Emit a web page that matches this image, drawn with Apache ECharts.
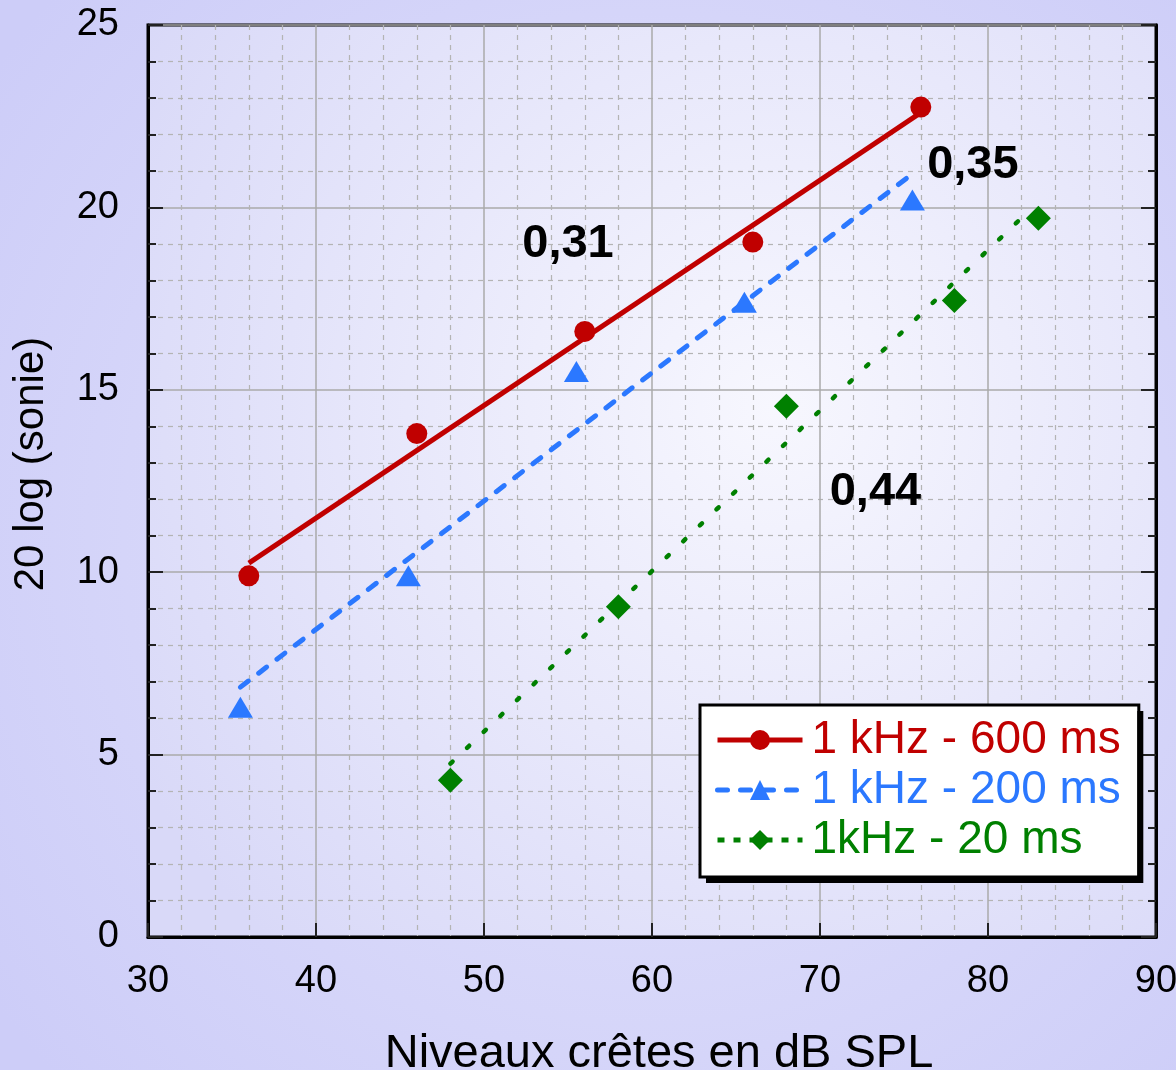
<!DOCTYPE html>
<html>
<head>
<meta charset="utf-8">
<script src="https://cdn.jsdelivr.net/npm/echarts@6/dist/echarts.min.js"></script>
<style>
html,body{margin:0;padding:0;background:#d4d4fa;}
#chart{width:1176px;height:1070px;}
</style>
</head>
<body>
<div id="chart"></div>
<script>
// ---- data ----
const seriesNames = ['1 kHz - 600 ms', '1 kHz - 200 ms', '1kHz - 20 ms'];
const points600 = [[36, 9.9], [46, 13.8], [56, 16.6], [66, 19.05], [76, 22.75]];
const points200 = [[35.5, 6.3], [45.5, 9.9], [55.5, 15.5], [65.5, 17.4], [75.5, 20.2]];
const points20  = [[48, 4.3], [58, 9.05], [68, 14.55], [78, 17.45], [83, 19.7]];
const fit600 = [[36, 10.25], [76, 22.6]];
const fit200 = [[35.5, 6.85], [75.3, 20.85]];
const fit20  = [[48, 4.75], [82.2, 19.8]];
const slopeLabels = [[55.0, 19.0, '0,31'], [79.1, 21.15, '0,35'], [73.3, 12.2, '0,44']];
const xTitle = 'Niveaux crêtes en dB SPL';
const yTitle = '20 log (sonie)';

const FONT = '"Liberation Sans", Arial, Helvetica, sans-serif';
const RED = '#c00000', BLUE = '#2b78ff', GREEN = '#008000';

const chart = echarts.init(document.getElementById('chart'), null, {renderer: 'canvas'});

const yAxisBase = {
  type: 'value', min: 0, max: 25, interval: 5,
  axisLine: {show: true, onZero: false, lineStyle: {color: '#000', width: 3}},
  axisTick: {show: true, inside: true, length: 15, lineStyle: {color: '#222', width: 2}},
  minorTick: {show: true, splitNumber: 5, length: 8, lineStyle: {color: '#222', width: 2}},
};

const redLine = {color: RED, width: 5, type: 'solid'};
const blueLine = {color: BLUE, width: 5, type: [10, 13], cap: 'round'};
const greenLine = {color: GREEN, width: 4.5, type: [3, 20], cap: 'round'};
const greenLegendLine = {color: GREEN, width: 5, type: [7, 9], cap: 'butt'};

const legendCommon = {
  orient: 'vertical', left: 700, top: 705,
  padding: [12, 18, 14, 15], itemGap: 4,
  itemWidth: 85, itemHeight: 25,
  selectedMode: false,
  textStyle: {fontSize: 46, fontFamily: FONT, padding: [0, 0, 0, 4]}
};

const option = {
  backgroundColor: {
    type: 'radial', x: 0.55, y: 0.5, r: 0.75,
    colorStops: [{offset: 0, color: '#e4e4fb'}, {offset: 1, color: '#cdcdf8'}]
  },
  animation: false,
  textStyle: {fontFamily: FONT},
  grid: {
    left: 148, right: 20, top: 25, bottom: 133,
    containLabel: false, outerBoundsMode: 'none',
    show: true, borderColor: '#000', borderWidth: 3,
    backgroundColor: {
      type: 'radial', x: 0.62, y: 0.42, r: 0.8,
      colorStops: [{offset: 0, color: '#f7f7fe'}, {offset: 1, color: '#d9d9f8'}]
    }
  },
  xAxis: {
    type: 'value', min: 30, max: 90, interval: 10,
    name: xTitle, nameLocation: 'middle', nameGap: 94,
    nameTextStyle: {fontSize: 47, color: '#000', fontFamily: FONT, padding: [0, 0, 0, 14]},
    axisLine: {show: true, onZero: false, lineStyle: {color: '#000', width: 3}},
    axisTick: {show: true, inside: true, length: 14, lineStyle: {color: '#222', width: 2}},
    minorTick: {show: false, splitNumber: 5},
    axisLabel: {fontSize: 38, color: '#000', margin: 26, fontFamily: FONT},
    splitLine: {show: true, lineStyle: {color: '#aaaaaa', width: 1.5}},
    minorSplitLine: {show: true, lineStyle: {color: '#b4b4b4', width: 1.2, type: [5, 5]}}
  },
  yAxis: [
    Object.assign({}, yAxisBase, {
      position: 'left',
      name: yTitle, nameLocation: 'middle', nameGap: 96,
      nameTextStyle: {fontSize: 42, color: '#000', fontFamily: FONT, padding: [0, 0, 0, 34]},
      axisLabel: {fontSize: 38, color: '#000', margin: 29, fontFamily: FONT},
      splitLine: {show: true, lineStyle: {color: '#aaaaaa', width: 1.5}},
      minorSplitLine: {show: true, lineStyle: {color: '#b4b4b4', width: 1.2, type: [5, 5]}}
    }),
    Object.assign({}, yAxisBase, {
      position: 'right',
      axisLabel: {show: false},
      splitLine: {show: false},
      minorSplitLine: {show: false}
    })
  ],
  legend: [
    // shadow layer (box only)
    Object.assign({}, legendCommon, {
      z: 10,
      backgroundColor: '#ffffff', borderWidth: 0,
      shadowColor: '#000', shadowOffsetX: 6, shadowOffsetY: 6, shadowBlur: 0,
      data: seriesNames.map(n => ({
        name: n, textStyle: {color: 'rgba(0,0,0,0)'},
        lineStyle: {opacity: 0}, itemStyle: {opacity: 0}
      }))
    }),
    // visible legend with border
    Object.assign({}, legendCommon, {
      z: 11,
      backgroundColor: 'rgba(0,0,0,0)', borderColor: '#000', borderWidth: 3,
      data: [
        {name: seriesNames[0], textStyle: {color: RED}, lineStyle: redLine, itemStyle: {color: RED}},
        {name: seriesNames[1], textStyle: {color: BLUE}, lineStyle: blueLine, itemStyle: {color: BLUE}},
        {name: seriesNames[2], textStyle: {color: GREEN}, lineStyle: greenLegendLine, itemStyle: {color: GREEN}}
      ]
    })
  ],
  series: [
    {
      name: seriesNames[0], type: 'line', data: fit600,
      symbol: 'circle', symbolSize: 20, showSymbol: false, silent: true,
      itemStyle: {color: RED}, lineStyle: redLine, z: 2
    },
    {
      name: seriesNames[1], type: 'line', data: fit200,
      symbol: 'triangle', symbolSize: 20, showSymbol: false, silent: true,
      itemStyle: {color: BLUE}, lineStyle: blueLine, z: 2
    },
    {
      name: seriesNames[2], type: 'line', data: fit20,
      symbol: 'diamond', symbolSize: 20, showSymbol: false, silent: true,
      itemStyle: {color: GREEN}, lineStyle: greenLine, z: 2
    },
    {
      name: seriesNames[0], type: 'scatter', data: points600,
      symbol: 'circle', symbolSize: 21, itemStyle: {color: RED, opacity: 1}, z: 3
    },
    {
      name: seriesNames[1], type: 'scatter', data: points200,
      symbol: 'triangle', symbolSize: [25, 21], itemStyle: {color: BLUE, opacity: 1}, z: 3
    },
    {
      name: seriesNames[2], type: 'scatter', data: points20,
      symbol: 'diamond', symbolSize: [25, 25], itemStyle: {color: GREEN, opacity: 1}, z: 3
    },
    {
      name: 'slopes', type: 'scatter', silent: true,
      data: slopeLabels.map(d => ({value: [d[0], d[1]], label: {formatter: d[2]}})),
      symbolSize: 1,
      itemStyle: {opacity: 0},
      label: {
        show: true, position: 'inside', opacity: 1,
        fontSize: 47, fontWeight: 'bold', color: '#000', fontFamily: FONT
      },
      z: 4
    }
  ]
};
chart.setOption(option);
</script>
</body>
</html>
